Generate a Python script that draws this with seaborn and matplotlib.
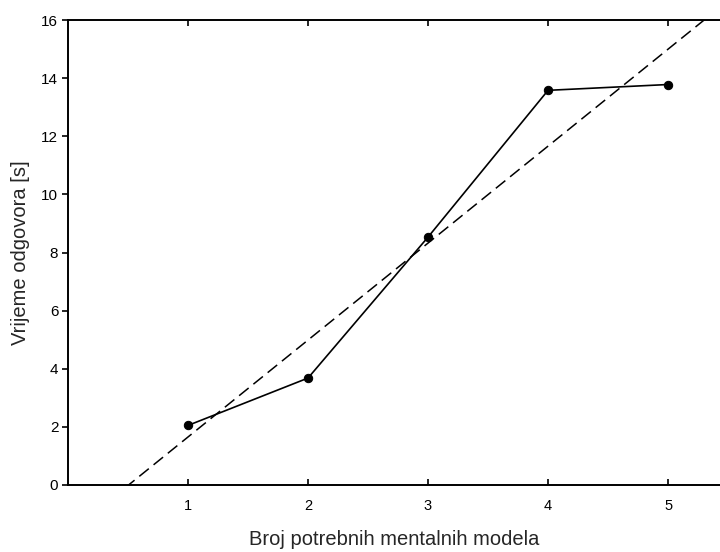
import numpy as np
import pandas as pd
import matplotlib
matplotlib.use("Agg")
import matplotlib.pyplot as plt
import seaborn as sns

# Data
models = [1, 2, 3, 4, 5]
times = [2.05, 3.68, 8.53, 13.58, 13.78]
x_ticks = [1, 2, 3, 4, 5]
y_ticks = [0, 2, 4, 6, 8, 10, 12, 14, 16]
x_label = "Broj potrebnih mentalnih modela"
y_label = "Vrijeme odgovora [s]"

sns.set_theme(style="white")
plt.rcParams['font.family'] = ['Liberation Sans', 'DejaVu Sans']

fig = plt.figure(figsize=(7.2, 5.52), dpi=100)
ax = fig.add_axes([68/720, 1 - 485/552, 1 - 68/720, (485 - 20)/552])

df = pd.DataFrame({"x": models, "y": times})

# regression (dashed) line computed from the data
slope, intercept = np.polyfit(models, times, 1)
fit_x = np.array([0.0, 6.0])
fit_df = pd.DataFrame({"x": fit_x, "y": slope * fit_x + intercept})
sns.lineplot(data=fit_df, x="x", y="y", ax=ax, color="black", lw=1.1,
             linestyle=(0, (8, 4)))

sns.lineplot(data=df, x="x", y="y", ax=ax, color="black", lw=1.2,
             marker="o", markersize=6, markeredgecolor="black")

ax.set_xlim(0, 5.433)
ax.set_ylim(0, 16)
ax.set_xticks(x_ticks)
ax.set_yticks(y_ticks)
ax.set_xticklabels([str(v) for v in x_ticks], fontsize=10.5)
ax.set_yticklabels([str(v) for v in y_ticks], fontsize=11)
ax.set_xlabel(x_label, fontsize=14.5, labelpad=12)
ax.set_ylabel(y_label, fontsize=14.5, labelpad=8)

for side in ["left", "bottom", "top"]:
    ax.spines[side].set_visible(True)
    ax.spines[side].set_color("black")
    ax.spines[side].set_linewidth(1.4)
ax.spines["right"].set_visible(False)

ax.tick_params(axis="x", which="both", direction="in", length=4, width=1.2,
               top=True, bottom=True, colors="black", pad=10)
ax.tick_params(axis="y", which="both", direction="out", length=4, width=1.2,
               left=True, right=False, colors="black", pad=3)

fig.savefig("out.png", dpi=100)
